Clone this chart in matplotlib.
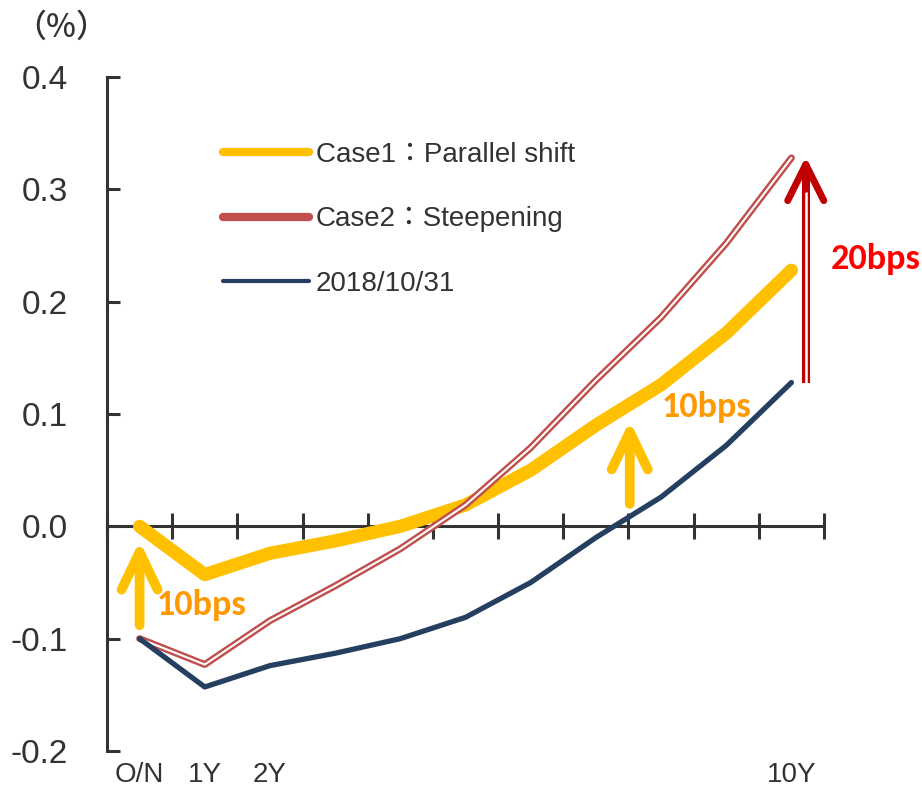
import numpy as np
import matplotlib
matplotlib.use("Agg")
import matplotlib.pyplot as plt
from matplotlib import font_manager
from matplotlib.lines import Line2D
from matplotlib.patches import FancyArrowPatch

plt.rcParams['font.family'] = ['Liberation Sans', 'Noto Sans CJK JP']

# ---------------- data ----------------
tenors = ['O/N', '1Y', '2Y', '3Y', '4Y', '5Y', '6Y', '7Y', '8Y', '9Y', '10Y']
tick_labels = ['O/N', '1Y', '2Y', '', '', '', '', '', '', '', '10Y']
base_2018 = [-0.100, -0.143, -0.124, -0.113, -0.100, -0.081, -0.050, -0.010, 0.026, 0.072, 0.128]
case1_parallel = [0.000, -0.043, -0.024, -0.013, 0.000, 0.019, 0.050, 0.090, 0.126, 0.172, 0.228]
case2_steep = [-0.100, -0.123, -0.084, -0.053, -0.020, 0.019, 0.070, 0.130, 0.186, 0.252, 0.328]
y_ticks = [-0.2, -0.1, 0.0, 0.1, 0.2, 0.3, 0.4]
y_tick_labels = ['-0.2', '-0.1', '0.0', '0.1', '0.2', '0.3', '0.4']
legend_labels = ['Case1\uff1aParallel shift', 'Case2\uff1aSteepening', '2018/10/31']

# ---------------- style ----------------
YELLOW = '#FFC000'
RED = '#C0504D'
NAVY = '#243F60'
AXC = '#333333'
ORANGE_TXT = '#FF9900'
RED_TXT = '#FF0000'
DARKRED = '#C00000'

names = {f.name for f in font_manager.fontManager.ttflist}
if 'Liberation Sans Narrow' in names:
    xfont, xsize = 'Liberation Sans Narrow', 24
else:
    xfont, xsize = 'Liberation Sans', 20
bold_font = 'Carlito' if 'Carlito' in names else 'Lato'

fig = plt.figure(figsize=(9.22, 7.91), dpi=100)
ax = fig.add_axes([107 / 922, 1 - 751 / 791, 717 / 922, 674 / 791])

x = np.arange(len(tenors))

ax.plot(x, case1_parallel, color=YELLOW, lw=9.5, solid_capstyle='round',
        solid_joinstyle='round', zorder=3)
ax.plot(x, case2_steep, color=RED, lw=5.0, solid_capstyle='round',
        solid_joinstyle='round', zorder=4)
ax.plot(x, case2_steep, color='white', lw=1.5, solid_capstyle='round',
        solid_joinstyle='round', zorder=4.1)
ax.plot(x, base_2018, color=NAVY, lw=3.8, solid_capstyle='round',
        solid_joinstyle='round', zorder=5)

ax.set_xlim(-0.5, len(tenors) - 0.5)
ax.set_ylim(-0.2, 0.4)

# spines
for s in ['top', 'right']:
    ax.spines[s].set_visible(False)
ax.spines['left'].set_color(AXC)
ax.spines['left'].set_linewidth(2.2)
ax.spines['bottom'].set_position(('data', 0))
ax.spines['bottom'].set_color(AXC)
ax.spines['bottom'].set_linewidth(2.2)

ax.set_xticks(np.arange(-0.5, len(tenors), 1.0))
ax.set_xticklabels([])
ax.tick_params(axis='x', direction='inout', length=19, width=2.2, color=AXC)

ax.set_yticks(y_ticks)
ax.set_yticklabels(y_tick_labels)
ax.tick_params(axis='y', direction='in', length=9, width=2.2, color=AXC,
               pad=28, labelsize=24, labelcolor=AXC)

sec = ax.secondary_xaxis('bottom')
sec.set_xticks(x)
sec.set_xticklabels(tick_labels, fontfamily=xfont, fontsize=xsize, color=AXC)
sec.tick_params(length=0, pad=8)
sec.spines['bottom'].set_visible(False)

# arrows
def arrow(x0, y0, y1, color, lw, hl, hw, cap='round', z=6):
    a = FancyArrowPatch((x0, y0), (x0, y1),
                        arrowstyle=f'->,head_length={hl},head_width={hw}',
                        mutation_scale=1, lw=lw, color=color,
                        shrinkA=0, shrinkB=0, capstyle=cap,
                        joinstyle='round', zorder=z, clip_on=False)
    ax.add_patch(a)

arrow(0.0, -0.088, -0.013, YELLOW, 7, 27, 13)
arrow(7.52, 0.020, 0.094, YELLOW, 7, 27, 13)

# double-line red arrow
xr = 10.22
ax.plot([xr, xr], [0.128, 0.322], color=DARKRED, lw=5.8,
        solid_capstyle='butt', zorder=6, clip_on=False)
ax.plot([xr, xr], [0.120, 0.312], color='white', lw=1.8,
        solid_capstyle='butt', zorder=6.5, clip_on=False)
arrow(xr, 0.300, 0.329, DARKRED, 5.0, 26, 13, z=6.6)

ax.text(0.95, -0.070, '10bps', color=ORANGE_TXT, fontsize=26, fontweight='bold',
        fontfamily=bold_font, ha='center', va='center', zorder=7)
ax.text(8.69, 0.106, '10bps', color=ORANGE_TXT, fontsize=26, fontweight='bold',
        fontfamily=bold_font, ha='center', va='center', zorder=7)
ax.text(11.3, 0.238, '20bps', color=RED_TXT, fontsize=26, fontweight='bold',
        fontfamily=bold_font, ha='center', va='center', zorder=7, clip_on=False)

# legend
handles = [Line2D([], [], color=YELLOW, lw=6, solid_capstyle='round'),
           Line2D([], [], color=RED, lw=6, solid_capstyle='round'),
           Line2D([], [], color=NAVY, lw=3, solid_capstyle='round')]
leg = ax.legend(handles, legend_labels, loc='upper left',
                bbox_to_anchor=(223 / 922, 1 - 142 / 791),
                bbox_transform=fig.transFigure, frameon=False,
                fontsize=20, handlelength=3.1, handletextpad=0.25,
                labelspacing=1.38, borderpad=0, borderaxespad=0)
for t in leg.get_texts():
    t.set_color(AXC)

fig.text(14 / 922, 1 - 28 / 791, '\uff08%\uff09', fontsize=23,
         fontfamily=['Noto Sans CJK JP', 'DejaVu Sans'], color=AXC,
         fontweight='medium', ha='left', va='center')

fig.savefig('out.png', dpi=100)
